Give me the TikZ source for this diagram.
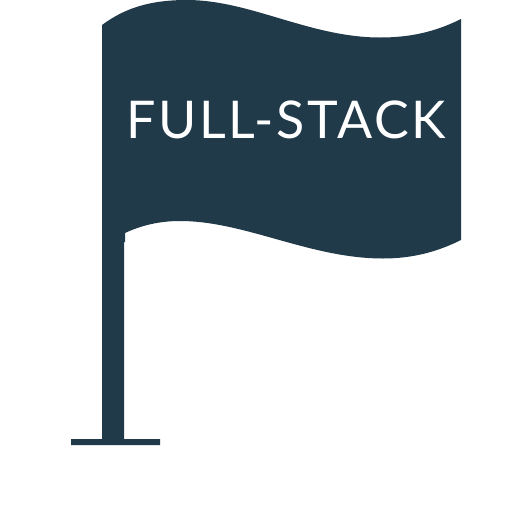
\documentclass[tikz,border=0pt]{standalone}
\usepackage{fontspec}
\setmainfont[LetterSpace=5.2]{Lato}
\definecolor{flag}{HTML}{203A4A}
\begin{document}
\begin{tikzpicture}[x=1pt,y=-1pt,flagfill/.style={fill=flag,draw=none}]
\useasboundingbox (0,0) rectangle (512,512);
\fill[white] (0,0) rectangle (512,512);
\fill[flagfill] (102,25) .. controls (125,8) and (150,0) .. (187,0) .. controls (250,0) and (310,37.5) .. (380,37.5) .. controls (410,37.5) and (435,32) .. (461,19) -- (461,240) .. controls (437,252) and (412,258.5) .. (383,258.5) .. controls (310,258.5) and (245,221) .. (180,221) .. controls (158,221) and (140,226) .. (125,233) -- (125,242) -- (124,242) -- (124,439) -- (160,439) -- (160,445) -- (71,445) -- (71,439) -- (102,439) -- cycle;
\node[text=white,font=\fontsize{52}{52}\selectfont,inner sep=0pt] (label) at (286,120) {FULL-STACK};
\end{tikzpicture}
\end{document}
